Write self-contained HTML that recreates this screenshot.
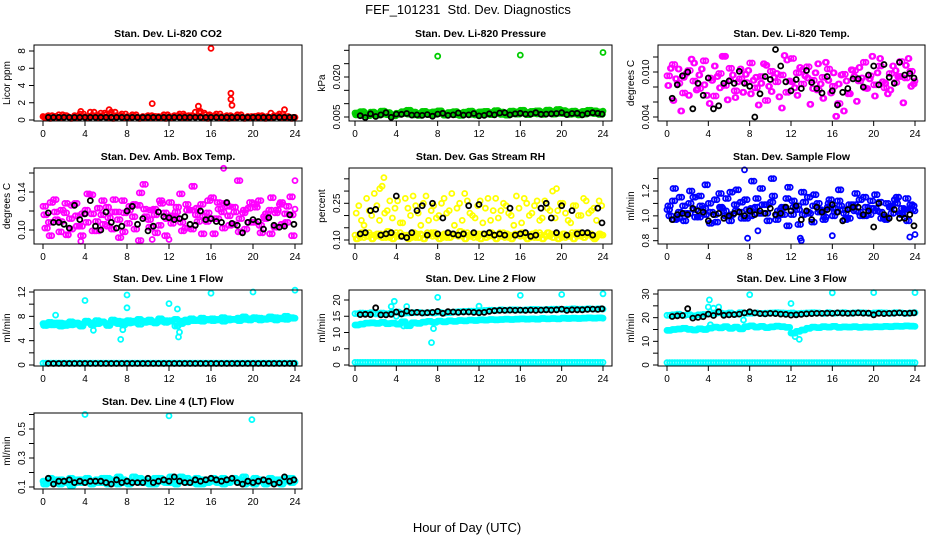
<!DOCTYPE html>
<html><head><meta charset="utf-8">
<style>
html,body{margin:0;padding:0;background:#fff;}
svg{display:block;font-family:"Liberation Sans",Arial,sans-serif;}
</style></head>
<body>
<svg id="chart" width="936" height="540" viewBox="0 0 936 540" xmlns="http://www.w3.org/2000/svg">
<rect width="936" height="540" fill="#fff"/>
<text x="468" y="14" text-anchor="middle" font-size="13">FEF_101231&#160; Std. Dev. Diagnostics</text>
<text x="467" y="532" text-anchor="middle" font-size="13">Hour of Day (UTC)</text>
</svg>
<script>
// ---------- data ----------
const xTicks = [0,4,8,12,16,20,24];
const xTickLabels = ["0","4","8","12","16","20","24"];

const co2Main = [0.4,0.5,0.3,0.6,0.4,0.3,0.5,0.7,0.4,0.9,0.5,0.8,0.6,0.9,0.5,0.7,0.4,0.6,0.3,0.4,0.5,0.3,0.4,0.6,0.4,0.5,0.7,0.5,0.4,0.9,0.8,0.6,0.5,0.7,0.4,0.5,0.4,0.6,0.3,0.4,0.3,0.5,0.4,0.3,0.5,0.7,0.4,0.3,0.3];
const co2Main2 = [0.3,0.2,0.4,0.3,0.5,0.2,0.3,0.4,0.3,0.5,0.3,0.4,0.3,0.2,0.4,0.3,0.3,0.4,0.2,0.3,0.3,0.4,0.3,0.2,0.3,0.4,0.3,0.3,0.5,0.4,0.3,0.2,0.4,0.3,0.3,0.2,0.3,0.4,0.2,0.3,0.4,0.3,0.2,0.3,0.4,0.3,0.3,0.2,0.3];
const co2OutX = [3.6,6.3,10.4,14.8,15.0,16.0,17.9,17.9,18.0,21.7,23.0];
const co2OutY = [1.0,1.2,1.9,1.6,1.0,8.3,3.1,2.4,1.7,0.8,1.2];
const co2Black = [0.3,0.3,0.3,0.3,0.3,0.3,0.3,0.3,0.3,0.3,0.3,0.3,0.3,0.3,0.3,0.3,0.3,0.3,0.3,0.3,0.3,0.3,0.3,0.3,0.3,0.3,0.3,0.3,0.3,0.3,0.3,0.3,0.3,0.3,0.3,0.3,0.3,0.3,0.3,0.3,0.3,0.3,0.3,0.3,0.3,0.3,0.3,0.3];

const presMain = [0.0065,0.007,0.006,0.0068,0.0062,0.0072,0.0066,0.0058,0.0064,0.007,0.0075,0.0068,0.0063,0.0071,0.0066,0.0069,0.0073,0.0062,0.0067,0.007,0.0064,0.0068,0.0072,0.0065,0.0069,0.0071,0.0066,0.0074,0.0068,0.0063,0.0072,0.0069,0.0075,0.0067,0.0071,0.0073,0.0068,0.0076,0.007,0.0078,0.0074,0.0069,0.0072,0.0066,0.0071,0.0075,0.0073,0.0069,0.0072];
const presMain2 = [0.0058,0.006,0.0055,0.0062,0.0057,0.0061,0.0059,0.0054,0.006,0.0063,0.0061,0.0058,0.0056,0.0062,0.0059,0.006,0.0064,0.0057,0.0061,0.0059,0.0056,0.0062,0.006,0.0058,0.0063,0.0061,0.0059,0.0064,0.006,0.0057,0.0062,0.0061,0.0065,0.0059,0.0063,0.0062,0.006,0.0066,0.0061,0.0064,0.0063,0.006,0.0062,0.0058,0.0061,0.0065,0.0063,0.006,0.0062];
const presOutX = [8,16,24];
const presOutY = [0.0278,0.0282,0.0292];
const presBlack = [0.0055,0.0048,0.0062,0.0052,0.0058,0.0066,0.0049,0.0061,0.006,0.0063,0.0057,0.0058,0.0056,0.0059,0.0053,0.0061,0.0064,0.0056,0.0058,0.0065,0.0057,0.0058,0.0063,0.0054,0.0056,0.0062,0.0058,0.0065,0.0066,0.0058,0.0062,0.0064,0.0061,0.0061,0.0066,0.006,0.0061,0.0062,0.0063,0.0066,0.0059,0.0063,0.0064,0.0058,0.0063,0.0066,0.0064,0.0061];

const tempA = [0.0095,0.011,0.0085,0.0072,0.0102,0.0088,0.0078,0.0115,0.0092,0.0068,0.0098,0.0082,0.0105,0.0075,0.0091,0.0086,0.0112,0.0079,0.0094,0.0062,0.0101,0.0087,0.0096,0.0073,0.0118,0.0099,0.0084,0.0107,0.0089,0.0076,0.0093,0.0104,0.0081,0.0058,0.0097,0.0071,0.0102,0.0088,0.0113,0.0095,0.0083,0.0108,0.0079,0.0098,0.0086,0.0114,0.0092,0.0101,0.0088];
const tempB = [0.0082,0.0062,0.0104,0.0093,0.0069,0.0112,0.0096,0.0083,0.0058,0.0108,0.0079,0.0121,0.0089,0.0066,0.0104,0.0097,0.0071,0.0093,0.0085,0.0109,0.0074,0.0098,0.0052,0.0116,0.0087,0.0069,0.0103,0.0092,0.0078,0.0111,0.0065,0.0089,0.0099,0.0084,0.0048,0.0072,0.0094,0.0106,0.0079,0.0091,0.0068,0.0118,0.0085,0.0076,0.0102,0.0094,0.0109,0.0081,0.0096];
const tempC = [0.0105,0.0091,0.0048,0.0098,0.0117,0.0076,0.0104,0.0069,0.0089,0.0094,0.0121,0.0063,0.0096,0.0087,0.0073,0.0102,0.0089,0.0056,0.0111,0.0081,0.0093,0.0067,0.0122,0.0088,0.0079,0.0106,0.0095,0.0057,0.0099,0.0084,0.0113,0.0072,0.0041,0.0096,0.0088,0.0103,0.0061,0.0092,0.0078,0.0121,0.0099,0.0087,0.0071,0.0108,0.0094,0.0059,0.0118,0.0084,0.0098];
const tempBlack = [0.0065,0.0083,0.0095,0.0100,0.0051,0.0085,0.0069,0.0092,0.0051,0.0055,0.0085,0.0088,0.0085,0.0101,0.0085,0.0081,0.0040,0.0071,0.0094,0.0090,0.0130,0.0108,0.0087,0.0075,0.0090,0.0078,0.0102,0.0086,0.0078,0.0072,0.0094,0.0075,0.0056,0.0073,0.0078,0.0091,0.0091,0.0080,0.0096,0.0108,0.0083,0.0110,0.0093,0.0085,0.0113,0.0096,0.0098,0.0092];

const ambA = [0.125,0.108,0.132,0.098,0.118,0.112,0.128,0.104,0.121,0.137,0.109,0.116,0.124,0.101,0.119,0.131,0.107,0.114,0.126,0.148,0.111,0.122,0.105,0.118,0.129,0.113,0.138,0.102,0.121,0.116,0.127,0.109,0.134,0.112,0.119,0.125,0.106,0.152,0.118,0.123,0.108,0.131,0.114,0.121,0.103,0.127,0.117,0.135,0.122];
const ambB = [0.102,0.129,0.111,0.121,0.095,0.126,0.104,0.117,0.138,0.099,0.123,0.106,0.113,0.132,0.092,0.118,0.125,0.101,0.139,0.114,0.121,0.097,0.128,0.112,0.107,0.124,0.099,0.121,0.146,0.109,0.115,0.131,0.096,0.122,0.128,0.105,0.119,0.112,0.101,0.129,0.124,0.097,0.117,0.134,0.121,0.106,0.125,0.094,0.119];
const ambC = [0.116,0.094,0.119,0.109,0.128,0.101,0.115,0.094,0.108,0.117,0.099,0.131,0.104,0.119,0.111,0.098,0.121,0.127,0.089,0.122,0.103,0.116,0.131,0.094,0.115,0.119,0.108,0.127,0.101,0.123,0.096,0.118,0.112,0.129,0.102,0.115,0.124,0.098,0.121,0.108,0.127,0.105,0.112,0.096,0.118,0.129,0.108,0.116,0.111];
const ambOutX = [17.2,2.4,3.6,10.4,12.0,24.0];
const ambOutY = [0.165,0.095,0.088,0.09,0.09,0.152];
const ambBlack = [0.118,0.108,0.108,0.106,0.102,0.126,0.111,0.117,0.131,0.104,0.100,0.119,0.108,0.102,0.104,0.120,0.125,0.106,0.112,0.099,0.104,0.119,0.114,0.113,0.111,0.112,0.114,0.106,0.105,0.120,0.111,0.112,0.109,0.108,0.129,0.107,0.105,0.097,0.108,0.111,0.109,0.101,0.113,0.105,0.103,0.104,0.116,0.106];

const rhA = [0.12,0.11,0.13,0.12,0.115,0.125,0.11,0.12,0.13,0.115,0.12,0.11,0.125,0.12,0.13,0.115,0.12,0.11,0.125,0.12,0.115,0.13,0.12,0.11,0.125,0.12,0.115,0.12,0.13,0.11,0.12,0.125,0.115,0.12,0.11,0.13,0.12,0.115,0.125,0.12,0.11,0.12,0.13,0.115,0.12,0.125,0.11,0.12,0.12];
const rhB = [0.105,0.13,0.115,0.105,0.125,0.11,0.135,0.105,0.115,0.12,0.105,0.13,0.11,0.105,0.12,0.13,0.105,0.125,0.11,0.12,0.135,0.105,0.115,0.125,0.105,0.11,0.13,0.105,0.115,0.125,0.105,0.12,0.13,0.105,0.125,0.11,0.105,0.13,0.11,0.105,0.125,0.115,0.105,0.13,0.11,0.12,0.105,0.125,0.11];
const rhC = [0.21,0.18,0.27,0.2,0.24,0.32,0.22,0.19,0.26,0.17,0.23,0.28,0.21,0.25,0.18,0.24,0.2,0.27,0.22,0.16,0.25,0.29,0.21,0.19,0.26,0.23,0.18,0.27,0.22,0.24,0.2,0.28,0.17,0.25,0.21,0.26,0.19,0.23,0.3,0.22,0.25,0.18,0.24,0.2,0.27,0.21,0.23,0.26,0.22];
const rhD = [0.24,0.16,0.22,0.29,0.18,0.21,0.26,0.23,0.17,0.27,0.2,0.24,0.16,0.28,0.22,0.19,0.25,0.21,0.29,0.23,0.18,0.26,0.2,0.24,0.17,0.27,0.22,0.19,0.25,0.21,0.16,0.23,0.27,0.2,0.24,0.18,0.26,0.22,0.19,0.25,0.21,0.17,0.24,0.2,0.26,0.22,0.18,0.24,0.2];
const rhOutX = [2.8,2.4,19.5];
const rhOutY = [0.355,0.31,0.31];
const rhBlack = [0.125,0.13,0.22,0.225,0.12,0.125,0.13,0.28,0.115,0.11,0.13,0.22,0.24,0.12,0.25,0.125,0.19,0.13,0.125,0.12,0.125,0.24,0.13,0.245,0.125,0.13,0.12,0.125,0.12,0.23,0.12,0.125,0.13,0.115,0.12,0.23,0.25,0.19,0.13,0.24,0.12,0.22,0.125,0.13,0.13,0.12,0.23,0.17];

const flowA = [1.05,1.12,0.98,1.08,1.02,1.15,0.99,1.06,1.1,1.01,1.18,1.04,0.96,1.09,1.03,1.13,1.0,1.07,1.22,1.02,1.11,0.97,1.06,1.14,1.01,1.08,1.19,1.03,0.95,1.1,1.04,1.07,1.0,1.12,1.05,0.98,1.09,1.03,1.15,1.01,1.06,1.11,0.99,1.07,1.13,1.02,1.05,1.09,1.04];
const flowB = [1.0,0.97,1.15,1.02,1.2,0.99,1.08,1.25,1.03,0.95,1.06,1.14,1.01,1.21,0.98,1.05,1.28,1.02,1.09,0.96,1.16,1.04,1.01,1.23,1.07,0.93,1.11,1.02,1.17,1.05,0.99,1.13,1.03,1.08,0.97,1.06,1.18,1.0,1.07,1.12,1.04,0.98,1.1,1.02,1.15,1.06,0.96,1.08,1.03];
const flowC = [1.08,1.22,1.03,0.96,1.1,1.05,1.16,1.01,0.94,1.13,1.07,1.0,1.19,1.04,1.11,0.98,1.06,1.14,1.02,1.09,1.3,1.0,1.07,0.92,1.12,1.05,1.01,1.15,1.08,1.03,0.97,1.1,1.06,1.21,1.02,1.09,1.04,1.13,1.0,1.06,1.17,1.03,0.97,1.08,1.1,1.01,1.14,1.05,1.07];
const flowOutX = [7.5,7.8,8.8,12.9,13.0,16.0,23.5,24.0];
const flowOutY = [1.37,0.82,0.88,0.82,0.8,0.84,0.83,0.85];
const flowBlack = [0.97,1.01,1.02,1.01,1.06,1.04,1.03,0.96,1.01,1.02,0.98,1.0,1.02,1.03,1.0,1.04,1.01,1.04,1.02,1.06,1.01,1.02,1.07,1.04,1.08,0.97,1.04,0.97,1.07,1.03,1.05,1.09,1.03,0.96,1.05,1.07,1.07,1.01,1.04,0.91,1.1,1.01,0.98,1.05,0.98,0.98,1.01,0.92];

const l1A = [6.8,7.0,6.6,6.9,6.5,7.1,6.7,6.4,7.2,6.9,7.3,7.1,6.8,7.4,7.2,6.6,7.3,7.0,7.5,7.2,7.4,7.1,7.6,7.3,7.2,7.5,6.8,7.4,7.6,7.3,7.7,7.5,7.6,7.4,7.8,7.6,7.5,7.7,7.9,7.6,7.8,7.7,7.6,7.9,7.8,7.7,8.0,7.8,7.7];
const l1B = [6.5,6.6,6.9,6.4,6.8,6.6,6.9,6.7,7.0,6.6,6.8,7.0,6.5,7.0,6.8,7.1,6.9,7.2,6.7,7.0,7.1,6.9,7.2,7.0,7.3,6.4,7.2,7.1,7.3,7.4,7.2,7.4,7.3,7.5,7.2,7.4,7.5,7.3,7.5,7.4,7.6,7.4,7.5,7.6,7.4,7.6,7.5,7.7,7.6];
const l1Zero = [0.3,0.3,0.3,0.3,0.3,0.3,0.3,0.3,0.3,0.3,0.3,0.3,0.3,0.3,0.3,0.3,0.3,0.3,0.3,0.3,0.3,0.3,0.3,0.3,0.3,0.3,0.3,0.3,0.3,0.3,0.3,0.3,0.3,0.3,0.3,0.3,0.3,0.3,0.3,0.3,0.3,0.3,0.3,0.3,0.3,0.3,0.3,0.3,0.3];
const l1OutX = [1.2,4.0,4.8,7.4,7.6,8.0,8.0,12.0,12.8,12.9,13.0,16.0,20.0,24.0];
const l1OutY = [8.2,10.6,5.7,4.2,5.8,11.5,9.4,10.1,9.2,4.6,5.4,11.8,12.0,12.3];
const l1Black = [0.25,0.25,0.25,0.25,0.25,0.25,0.25,0.25,0.25,0.25,0.25,0.25,0.25,0.25,0.25,0.25,0.25,0.25,0.25,0.25,0.25,0.25,0.25,0.25,0.25,0.25,0.25,0.25,0.25,0.25,0.25,0.25,0.25,0.25,0.25,0.25,0.25,0.25,0.25,0.25,0.25,0.25,0.25,0.25,0.25,0.25,0.25,0.25];

const l2Upper = [15.8,16.0,15.9,16.1,15.7,16.0,15.8,16.2,16.3,15.9,16.0,16.1,16.2,16.0,16.1,16.0,16.2,16.0,16.1,16.3,16.4,16.5,16.6,16.6,16.7,16.8,16.9,16.8,17.0,16.9,17.0,17.0,16.9,17.0,17.1,17.1,17.0,17.1,17.2,17.2,17.1,17.2,17.3,17.2,17.2,17.3,17.2,17.3,17.2];
const l2Lower = [12.3,12.6,12.9,13.0,12.8,13.1,12.7,12.9,12.6,13.3,12.1,13.0,12.8,13.2,13.4,13.1,13.5,13.3,13.6,13.4,13.7,13.6,13.8,13.7,13.9,13.8,14.0,13.9,14.0,14.1,14.0,14.1,14.2,14.1,14.2,14.1,14.3,14.2,14.3,14.2,14.4,14.3,14.4,14.3,14.4,14.5,14.4,14.5,14.4];
const l2Zero = [0.8,0.8,0.8,0.8,0.8,0.8,0.8,0.8,0.8,0.8,0.8,0.8,0.8,0.8,0.8,0.8,0.8,0.8,0.8,0.8,0.8,0.8,0.8,0.8,0.8,0.8,0.8,0.8,0.8,0.8,0.8,0.8,0.8,0.8,0.8,0.8,0.8,0.8,0.8,0.8,0.8,0.8,0.8,0.8,0.8,0.8,0.8,0.8,0.8];
const l2OutX = [3.5,3.8,4.0,4.7,5.0,7.4,7.6,8.0,12.0,16.0,20.0,24.0];
const l2OutY = [18.0,19.6,15.0,12.0,18.0,6.9,11.2,20.8,18.1,21.4,21.7,21.9];
const l2Black = [15.5,15.6,15.5,17.6,15.4,15.4,15.6,16.3,15.7,16.6,16.1,16.2,16.0,16.1,16.2,16.5,15.9,16.4,16.3,16.2,16.3,16.3,16.2,16.1,16.2,16.5,16.7,16.8,16.8,16.9,16.8,16.9,16.8,16.9,16.8,16.9,17.0,16.9,17.0,17.2,16.8,17.0,17.0,17.0,17.1,17.2,17.1,17.3];

const l3Upper = [21.0,21.2,21.5,21.0,21.3,20.8,21.2,21.4,21.6,21.8,22.0,21.7,22.0,21.5,22.1,21.8,21.9,22.0,21.8,21.9,22.0,22.1,22.0,21.9,22.0,21.7,21.9,22.0,22.1,22.0,21.8,22.1,21.9,22.0,22.1,21.9,22.0,22.1,22.0,21.8,22.0,22.1,22.0,21.9,22.1,22.0,21.8,22.0,22.1];
const l3Lower = [14.6,15.0,15.2,15.5,15.1,14.8,15.3,15.0,15.6,16.0,15.7,16.2,15.5,16.0,15.3,16.2,16.5,16.0,16.3,15.8,16.1,16.4,16.2,15.9,13.5,14.2,14.8,15.5,16.0,15.8,16.2,16.0,16.3,15.9,16.1,16.0,16.2,15.9,16.1,16.0,16.2,16.1,16.3,16.2,16.4,16.3,16.5,16.4,16.3];
const l3Zero = [1.0,1.0,1.0,1.0,1.0,1.0,1.0,1.0,1.0,1.0,1.0,1.0,1.0,1.0,1.0,1.0,1.0,1.0,1.0,1.0,1.0,1.0,1.0,1.0,1.0,1.0,1.0,1.0,1.0,1.0,1.0,1.0,1.0,1.0,1.0,1.0,1.0,1.0,1.0,1.0,1.0,1.0,1.0,1.0,1.0,1.0,1.0,1.0,1.0];
const l3OutX = [4.0,4.1,4.2,4.5,5.0,7.4,8.0,12.0,12.4,12.8,16.0,20.0,24.0];
const l3OutY = [24.5,27.5,17.0,24.0,24.5,19.0,29.7,26.0,12.0,10.8,30.5,30.6,30.6];
const l3Black = [20.5,20.8,20.9,23.8,19.8,20.1,20.4,21.5,20.9,22.5,21.0,21.2,21.3,21.5,22.0,22.5,22.0,21.7,21.6,21.8,21.7,21.5,21.4,21.1,21.2,21.4,21.6,21.7,21.8,21.8,21.9,21.8,22.0,21.9,21.8,21.9,22.0,21.9,21.9,21.2,21.8,21.7,21.8,21.9,22.0,21.8,21.9,22.0];

const l4A = [0.14,0.13,0.15,0.12,0.14,0.16,0.13,0.15,0.14,0.12,0.15,0.13,0.16,0.14,0.12,0.15,0.14,0.17,0.13,0.15,0.14,0.12,0.16,0.14,0.13,0.15,0.17,0.13,0.14,0.16,0.12,0.15,0.14,0.13,0.16,0.14,0.15,0.13,0.17,0.14,0.12,0.15,0.14,0.16,0.13,0.15,0.14,0.16,0.14];
const l4B = [0.12,0.16,0.13,0.15,0.13,0.11,0.15,0.13,0.16,0.14,0.13,0.16,0.12,0.15,0.17,0.13,0.12,0.14,0.16,0.13,0.12,0.16,0.14,0.13,0.17,0.12,0.14,0.16,0.13,0.12,0.15,0.13,0.16,0.15,0.12,0.13,0.16,0.15,0.12,0.13,0.16,0.14,0.12,0.13,0.15,0.12,0.16,0.13,0.15];
const l4OutX = [4.0,12.0,19.9];
const l4OutY = [0.6,0.59,0.565];
const l4Black = [0.16,0.12,0.14,0.14,0.15,0.13,0.14,0.13,0.14,0.14,0.14,0.13,0.12,0.15,0.13,0.14,0.13,0.13,0.13,0.16,0.13,0.14,0.15,0.14,0.17,0.14,0.13,0.13,0.15,0.14,0.15,0.16,0.15,0.14,0.15,0.16,0.13,0.12,0.14,0.13,0.14,0.15,0.14,0.12,0.13,0.17,0.14,0.15];

// ---------- layout ----------
const NS = "http://www.w3.org/2000/svg";
const svg = document.getElementById('chart');
const cols = [{bx0:34,bx1:302,x0:43,x24:295},{bx0:349,bx1:612,x0:355,x24:603},{bx0:658,bx1:925,x0:667,x24:915}];
const rows = [{by0:45,by1:121},{by0:168,by1:244},{by0:290,by1:366},{by0:413,by1:489}];
const MAG="#ff00ff", CY="#00ffff", GR="#00cc00";

const panels = [
 {key:'co2',title:'Stan. Dev. Li-820 CO2',ylab:'Licor ppm',c:0,r:0,v1:0,p1:120,v2:8,p2:51,ticks:[0,2,4,6,8],labels:['0','2','4','6','8'],
  series:[[co2Main2,0.25,'#ff0000'],[co2Main,0,'#ff0000'],[co2Main2,0.12,'#ff0000'],[co2Main,0.37,'#ff0000']],outX:co2OutX,outY:co2OutY,outC:'#ff0000',black:co2Black},
 {key:'pressure',title:'Stan. Dev. Li-820 Pressure',ylab:'kPa',c:1,r:0,v1:0.005,p1:117,v2:0.020,p2:77,ticks:[0.005,0.010,0.015,0.020,0.025,0.030],labels:['0.005','','','0.020','',''],
  series:[[presMain2,0.25,GR],[presMain,0,GR],[presMain2,0.12,GR],[presMain,0.37,GR],[presMain2,0.06,GR],[presMain,0.19,GR],[presMain,0.31,GR],[presMain2,0.44,GR]],outX:presOutX,outY:presOutY,outC:GR,black:presBlack},
 {key:'temp',title:'Stan. Dev. Li-820 Temp.',ylab:'degrees C',c:2,r:0,v1:0.004,p1:117,v2:0.010,p2:72,ticks:[0.004,0.006,0.008,0.010,0.012],labels:['0.004','','','0.010',''],
  series:[[tempA,0,MAG],[tempB,0.17,MAG],[tempC,0.33,MAG],[tempB,0.08,MAG],[tempA,0.25,MAG],[tempC,0.42,MAG]],outX:[],outY:[],outC:MAG,black:tempBlack},
 {key:'ambbox',title:'Stan. Dev. Amb. Box Temp.',ylab:'degrees C',c:0,r:1,v1:0.10,p1:230,v2:0.14,p2:192,ticks:[0.10,0.12,0.14,0.16],labels:['0.10','','0.14',''],
  series:[[ambA,0,MAG],[ambB,0.17,MAG],[ambC,0.33,MAG],[ambC,0.08,MAG],[ambA,0.25,MAG],[ambB,0.42,MAG]],outX:ambOutX,outY:ambOutY,outC:MAG,black:ambBlack},
 {key:'rh',title:'Stan. Dev. Gas Stream RH',ylab:'percent',c:1,r:1,v1:0.10,p1:240,v2:0.25,p2:203.3,ticks:[0.10,0.15,0.20,0.25,0.30,0.35],labels:['0.10','','','0.25','',''],
  series:[[rhA,0,'#ffff00'],[rhB,0.25,'#ffff00'],[rhA,0.37,'#ffff00'],[rhB,0.12,'#ffff00'],[rhC,0.12,'#ffff00'],[rhD,0.37,'#ffff00']],outX:rhOutX,outY:rhOutY,outC:'#ffff00',black:rhBlack},
 {key:'sampleflow',title:'Stan. Dev. Sample Flow',ylab:'ml/min',c:2,r:1,v1:0.8,p1:240.7,v2:1.2,p2:191,ticks:[0.8,0.9,1.0,1.1,1.2,1.3],labels:['0.8','','1.0','','1.2',''],
  series:[[flowA,0,'#0000ff'],[flowB,0.17,'#0000ff'],[flowC,0.33,'#0000ff'],[flowC,0.08,'#0000ff'],[flowA,0.25,'#0000ff'],[flowB,0.42,'#0000ff']],outX:flowOutX,outY:flowOutY,outC:'#0000ff',black:flowBlack},
 {key:'line1',title:'Stan. Dev. Line 1 Flow',ylab:'ml/min',c:0,r:2,v1:0,p1:365,v2:12,p2:292,ticks:[0,2,4,6,8,10,12],labels:['0','','4','','8','','12'],
  series:[[l1A,0,CY],[l1B,0.25,CY],[l1A,0.12,CY],[l1B,0.37,CY],[l1B,0.06,CY],[l1A,0.31,CY],[l1Zero,0,CY],[l1Zero,0.25,CY]],outX:l1OutX,outY:l1OutY,outC:CY,black:l1Black},
 {key:'line2',title:'Stan. Dev. Line 2 Flow',ylab:'ml/min',c:1,r:2,v1:0,p1:365,v2:20,p2:300,ticks:[0,5,10,15,20],labels:['0','5','10','15','20'],
  series:[[l2Upper,0,CY],[l2Upper,0.25,CY],[l2Lower,0,CY],[l2Lower,0.25,CY],[l2Lower,0.12,CY],[l2Lower,0.37,CY],[l2Zero,0,CY],[l2Zero,0.25,CY]],outX:l2OutX,outY:l2OutY,outC:CY,black:l2Black},
 {key:'line3',title:'Stan. Dev. Line 3 Flow',ylab:'ml/min',c:2,r:2,v1:0,p1:365,v2:30,p2:294,ticks:[0,5,10,15,20,25,30],labels:['0','','10','','20','','30'],
  series:[[l3Upper,0,CY],[l3Upper,0.25,CY],[l3Lower,0,CY],[l3Lower,0.25,CY],[l3Lower,0.12,CY],[l3Lower,0.37,CY],[l3Zero,0,CY],[l3Zero,0.25,CY]],outX:l3OutX,outY:l3OutY,outC:CY,black:l3Black},
 {key:'line4',title:'Stan. Dev. Line 4 (LT) Flow',ylab:'ml/min',c:0,r:3,v1:0.1,p1:487,v2:0.5,p2:429,ticks:[0.1,0.2,0.3,0.4,0.5,0.6],labels:['0.1','','0.3','','0.5',''],
  series:[[l4A,0,CY],[l4B,0.25,CY],[l4A,0.12,CY],[l4B,0.37,CY],[l4B,0.06,CY],[l4A,0.31,CY]],outX:l4OutX,outY:l4OutY,outC:CY,black:l4Black}
];

function mk(tag, attrs, parent){
  const e = document.createElementNS(NS, tag);
  for (const k in attrs) e.setAttribute(k, attrs[k]);
  parent.appendChild(e); return e;
}
function ring(g, x, y, col){
  const c = mk('circle',{cx:x.toFixed(1),cy:y.toFixed(1),r:2.5,fill:'none',stroke:col,'stroke-width':1.8},g);
  
  
}

panels.forEach(p=>{
  const C = cols[p.c], R = rows[p.r];
  const xs = h => C.x0 + (C.x24 - C.x0) * h / 24;
  const ys = v => p.p1 + (p.p2 - p.p1) * (v - p.v1) / (p.v2 - p.v1);
  const g = mk('g',{},svg);
  
  
  const cx = (C.bx0 + C.bx1) / 2;
  const t = mk('text',{x:cx,y:R.by0-8,'text-anchor':'middle','font-size':10.5,'font-weight':'bold'},g);
  t.textContent = p.title;
  
  
  const pts = mk('g',{},g);
  
  
  p.series.forEach(s=>{
    const arr = s[0], off = s[1], col = s[2];
    arr.forEach((v,i)=>{ const h = i*0.5 + off; if (h<=24) ring(pts, xs(h), ys(v), col); });
  });
  p.outX.forEach((h,i)=> ring(pts, xs(h), ys(p.outY[i]), p.outC));
  p.black.forEach((v,i)=> ring(pts, xs(0.5 + i*0.5 - (i==47?0.1:0)), ys(v), '#000'));
  const b = mk('rect',{x:C.bx0,y:R.by0,width:C.bx1-C.bx0,height:R.by1-R.by0,fill:'none',stroke:'#000','stroke-width':1},g);
  
  
  const xa = mk('g',{},g);
  
  
  mk('line',{x1:xs(0),x2:xs(24),y1:R.by1,y2:R.by1,stroke:'#000'},xa);
  xTicks.forEach((h,i)=>{
    mk('line',{x1:xs(h),x2:xs(h),y1:R.by1,y2:R.by1+5,stroke:'#000'},xa);
    const tl = mk('text',{x:xs(h),y:R.by1+16,'text-anchor':'middle','font-size':10},xa);
    tl.textContent = xTickLabels[i];
    
    
  });
  const ya = mk('g',{},g);
  
  
  const yTop = ys(p.ticks[p.ticks.length-1]), yBot = ys(p.ticks[0]);
  mk('line',{x1:C.bx0,x2:C.bx0,y1:yTop,y2:yBot,stroke:'#000'},ya);
  p.ticks.forEach((v,i)=>{
    const y = ys(v);
    mk('line',{x1:C.bx0-5,x2:C.bx0,y1:y,y2:y,stroke:'#000'},ya);
    if (p.labels[i]) {
      const tl = mk('text',{x:C.bx0-9,y:y,'text-anchor':'middle','font-size':10,transform:`rotate(-90 ${C.bx0-9} ${y})`},ya);
      tl.textContent = p.labels[i];
      
      
    }
  });
  const yl = mk('text',{x:C.bx0-24,y:(R.by0+R.by1)/2,'text-anchor':'middle','font-size':10,transform:`rotate(-90 ${C.bx0-24} ${(R.by0+R.by1)/2})`},g);
  yl.textContent = p.ylab;
  
  
});
</script>
</body></html>
